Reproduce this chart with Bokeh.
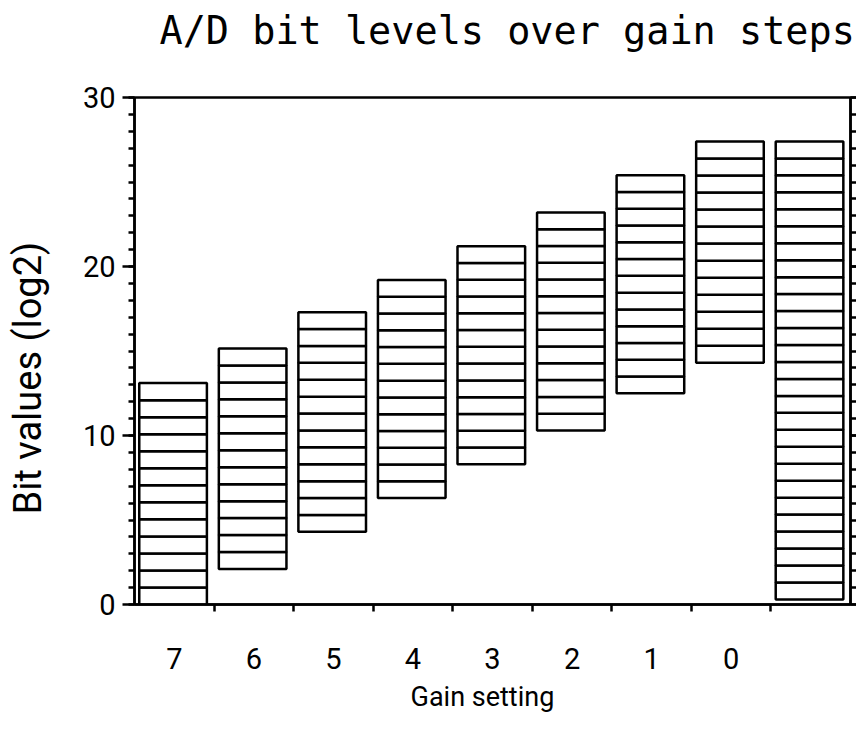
import numpy as np
from bokeh.plotting import figure
from bokeh.models import Range1d, LinearAxis, FixedTicker, Title
from bokeh.embed import file_html
from bokeh.resources import INLINE

# ---- data ----
gain_labels = ["7", "6", "5", "4", "3", "2", "1", "0", ""]
bit_low = [0.0, 2.1, 4.3, 6.3, 8.3, 10.3, 12.5, 14.3, 0.3]
bit_high = [13.1, 15.15, 17.3, 19.2, 21.2, 23.2, 25.4, 27.4, 27.4]
bit_count = [13, 13, 13, 13, 13, 13, 13, 13, 27]
y_major_ticks = [0, 10, 20, 30]
y_minor_ticks = list(range(0, 31))

# ---- style ----
INK = "black"
LW = 2.5
TICK_FONT = "Roboto"
TITLE_FONT = "DejaVu Sans Mono"

# build one cell per bit level
left, right, bottom, top = [], [], [], []
for k, (lo, hi, n) in enumerate(zip(bit_low, bit_high, bit_count)):
    edges = np.linspace(lo, hi, n + 1)
    for i in range(n):
        left.append(k - 0.44)
        right.append(k + 0.41)
        bottom.append(edges[i])
        top.append(edges[i + 1])

p = figure(
    title=None,
    frame_width=716, frame_height=507,
    x_range=Range1d(-0.5, len(gain_labels) - 0.5),
    y_range=Range1d(0, 30),
    x_axis_type=None, y_axis_type=None,
    output_backend="svg", toolbar_location=None,
    min_border_left=134, min_border_top=97,
    min_border_right=6, min_border_bottom=118,
    background_fill_color="white", border_fill_color="white",
)
p.outline_line_color = INK
p.outline_line_width = LW
p.outline_line_alpha = 1.0

p.quad(left=left, right=right, bottom=bottom, top=top,
       fill_color="white", line_color=INK, line_width=LW)

# bottom axis: labels at column centres, ticks at column boundaries
xaxis = LinearAxis(
    ticker=FixedTicker(ticks=list(range(8)),
                       minor_ticks=[i + 0.5 for i in range(8)]),
    major_label_overrides={i: gain_labels[i] for i in range(8)},
    axis_line_color=INK, axis_line_width=LW,
    major_tick_out=0, major_tick_in=0,
    minor_tick_out=7, minor_tick_in=0,
    minor_tick_line_color=INK, minor_tick_line_width=LW,
    major_label_text_font=TICK_FONT, major_label_text_font_size="29px",
    major_label_text_color=INK, major_label_standoff=36,
)
p.add_layout(xaxis, "below")

# left axis
yaxis = LinearAxis(
    ticker=FixedTicker(ticks=y_major_ticks, minor_ticks=y_minor_ticks),
    axis_line_color=INK, axis_line_width=LW,
    major_tick_out=12, major_tick_in=0,
    major_tick_line_color=INK, major_tick_line_width=LW,
    minor_tick_out=6, minor_tick_in=0,
    minor_tick_line_color=INK, minor_tick_line_width=LW,
    major_label_text_font=TICK_FONT, major_label_text_font_size="29px",
    major_label_text_color=INK, major_label_standoff=7,
)
p.add_layout(yaxis, "left")

# right axis: ticks only
raxis = LinearAxis(
    ticker=FixedTicker(ticks=y_major_ticks, minor_ticks=y_minor_ticks),
    axis_line_color=INK, axis_line_width=LW,
    major_tick_out=6, major_tick_in=0,
    major_tick_line_color=INK, major_tick_line_width=LW,
    minor_tick_out=6, minor_tick_in=0,
    minor_tick_line_color=INK, minor_tick_line_width=LW,
    major_label_overrides={t: "" for t in y_major_ticks},
    major_label_text_font_size="10px", major_label_standoff=0,
)
p.add_layout(raxis, "right")

# spacers (blank side titles) that push the real titles outward
p.add_layout(Title(text=" ", text_font_size="10px", standoff=32), "above")
p.add_layout(Title(text=" ", text_font_size="10px", standoff=17), "left")

# main title
p.add_layout(Title(
    text="A/D bit levels over gain steps", align="left", offset=25,
    standoff=0, text_font=TITLE_FONT, text_font_size="38.5px",
    text_font_style="normal", text_color=INK,
), "above")

# axis titles as side titles
p.add_layout(Title(
    text="Bit values (log2)", align="left", offset=90, standoff=0,
    text_font=TICK_FONT, text_font_size="38px", text_font_style="normal",
    text_color=INK,
), "left")
p.add_layout(Title(
    text="Gain setting", align="left", offset=276, standoff=14,
    text_font=TICK_FONT, text_font_size="27px", text_font_style="normal",
    text_color=INK,
), "below")

open("out.html", "w").write(file_html(p, INLINE))
